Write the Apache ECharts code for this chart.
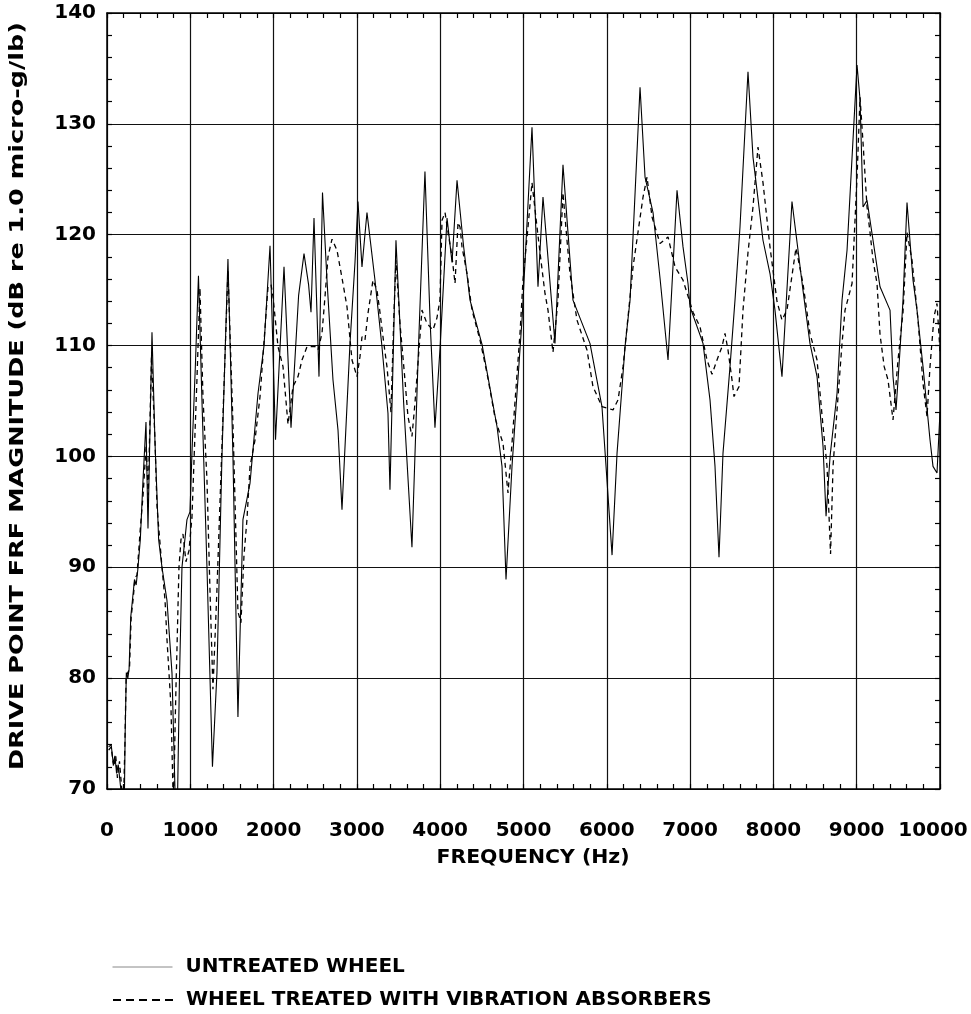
<!DOCTYPE html>
<html>
<head>
<meta charset="utf-8">
<script src="https://cdn.jsdelivr.net/npm/echarts@6/dist/echarts.min.js"></script>
<style>
  html, body { margin: 0; padding: 0; background: #fff; }
  #chart { width: 971px; height: 1014px; }
</style>
</head>
<body>
<div id="chart"></div>
<script>
// Drive point FRF magnitude, untreated vs. treated wheel
const untreatedHz = [20,50,75,95,115,135,160,185,205,218,232,250,265,285,305,330,350,370,400,430,468,492,540,576,620,660,720,780,816,840,870,900,960,996,1020,1060,1098,1140,1200,1266,1320,1380,1452,1512,1572,1632,1717,1813,1885,1957,2023,2125,2209,2300,2365,2420,2449,2485,2545,2587,2641,2713,2773,2821,2917,2977,3013,3061,3121,3217,3301,3373,3397,3469,3560,3661,3740,3817,3880,3937,4000,4082,4142,4202,4280,4358,4502,4682,4742,4790,4862,4982,5102,5174,5234,5378,5474,5594,5798,5942,6063,6123,6219,6279,6399,6459,6555,6640,6735,6843,6915,6975,6999,7155,7239,7299,7347,7395,7479,7539,7599,7695,7755,7875,7959,8019,8103,8223,8355,8439,8524,8596,8632,8680,8764,8824,8884,9004,9040,9076,9124,9196,9280,9400,9436,9472,9520,9556,9604,9676,9724,9796,9880,9916,9964,10000];
const untreatedDb = [73.8,74.0,72.3,73.0,71.4,72.2,70.4,68.5,67.0,75.0,80.5,80.0,80.8,85.5,87.0,88.9,88.4,89.8,92.5,97.5,103.1,93.5,111.2,101.3,92.5,90.0,87.0,80.5,70.0,66.0,80.0,90.0,94.3,95.0,100.3,108.0,116.3,105.0,90.0,72.0,80.5,100.0,117.8,100.0,76.5,94.3,97.6,105.7,110.0,119.0,101.5,117.1,102.6,114.5,118.3,115.5,113.0,121.5,107.2,123.8,115.9,106.9,102.4,95.2,110.2,117.5,123.0,117.1,122.0,115.9,109.9,103.9,97.0,119.5,105.0,91.8,110.0,125.7,112.0,102.6,110.0,121.5,117.5,124.9,119.0,114.1,110.1,102.7,99.1,88.9,99.1,112.3,129.7,115.3,123.4,110.2,126.3,114.1,110.2,104.5,91.1,100.3,109.9,114.1,133.3,125.2,122.0,116.0,108.7,124.0,118.9,115.6,113.5,110.2,105.1,99.1,90.9,100.3,108.1,114.1,120.7,134.7,127.0,119.5,116.5,113.2,107.2,123.0,115.0,110.2,107.2,100.9,94.6,100.0,105.7,114.1,118.6,135.3,132.2,122.5,123.1,119.5,115.3,113.2,107.2,104.2,109.6,114.1,122.9,115.9,113.2,108.1,101.5,99.1,98.5,104.0];

const treatedHz = [20,50,80,105,125,150,175,195,215,230,250,270,290,315,335,360,400,432,470,495,534,576,600,660,696,720,744,768,798,816,828,840,852,864,888,912,948,984,1020,1080,1116,1152,1200,1236,1272,1320,1380,1452,1512,1572,1608,1644,1680,1717,1777,1837,1933,1969,1993,2053,2113,2173,2233,2293,2341,2401,2497,2533,2581,2617,2653,2701,2761,2797,2833,2881,2941,3001,3037,3061,3097,3133,3193,3241,3277,3313,3361,3409,3445,3469,3517,3577,3613,3661,3697,3781,3841,3913,3961,3997,4022,4058,4094,4142,4178,4214,4238,4262,4322,4382,4478,4562,4658,4718,4754,4814,4862,4958,4994,5054,5102,5162,5198,5258,5294,5354,5414,5438,5474,5522,5558,5642,5762,5834,5942,6075,6135,6195,6255,6315,6435,6483,6543,6639,6735,6819,6915,7035,7119,7203,7263,7323,7383,7419,7455,7503,7527,7587,7635,7695,7755,7815,7875,7959,8043,8103,8163,8271,8355,8439,8524,8560,8596,8644,8686,8716,8764,8824,8860,8944,9004,9040,9076,9124,9160,9196,9244,9280,9330,9376,9436,9496,9556,9604,9664,9736,9796,9844,9880,9928,9964,10000];
const treatedDb = [73.5,73.8,72.0,73.0,71.0,72.5,70.2,68.0,74.0,80.2,80.5,80.8,85.5,87.2,89.0,89.3,93.5,96.4,101.0,96.5,109.0,101.5,95.5,90.0,87.1,83.5,80.5,77.4,68.0,75.1,79.2,82.6,86.4,90.0,92.5,93.0,90.5,91.5,94.5,107.0,115.2,105.4,97.9,88.0,79.0,88.0,101.0,116.8,103.0,86.0,85.0,91.0,94.3,99.1,101.5,105.4,115.3,115.5,114.4,109.9,108.1,102.9,106.3,107.2,108.7,109.9,109.9,109.6,111.1,114.4,118.0,119.6,118.6,117.1,115.6,113.5,108.7,107.2,109.0,110.8,110.5,112.9,115.9,115.0,113.0,110.8,108.1,104.0,113.0,117.7,112.0,106.9,103.6,101.8,104.8,113.2,112.0,111.4,112.5,114.1,121.3,122.0,120.2,118.0,115.6,121.1,120.7,118.9,116.5,113.2,110.5,107.5,103.5,102.0,101.2,96.7,101.2,111.1,115.9,120.7,124.7,120.7,118.4,114.7,113.2,109.4,114.1,118.0,123.8,119.5,116.5,112.3,109.6,106.3,104.5,104.2,105.1,108.1,112.6,117.1,123.4,125.2,121.6,119.2,119.8,117.1,115.9,113.0,111.7,108.7,107.4,108.7,109.9,111.1,109.6,106.9,105.4,106.3,113.2,118.4,122.5,127.9,124.7,118.9,114.0,112.3,113.2,118.8,115.6,111.1,108.7,105.7,102.7,99.1,91.2,99.1,104.2,110.2,113.2,115.6,125.2,132.4,128.3,122.5,120.2,117.7,115.6,111.0,108.1,106.9,103.3,108.7,113.0,120.2,117.7,112.3,106.6,103.6,108.1,112.6,113.8,109.5];

const seriesNames = ['UNTREATED WHEEL', 'WHEEL TREATED WITH VIBRATION ABSORBERS'];
const xTitle = 'FREQUENCY (Hz)';
const yTitle = 'DRIVE POINT FRF MAGNITUDE (dB re 1.0 micro-g/lb)';
const X_MAX = 10000;

const FONT = '"DejaVu Sans", "Liberation Sans", Arial, sans-serif';
const FONT_SIZE = 20;
const pairs = (xs, ys) => xs.map((x, i) => [x, ys[i]]);

// width of a bold string, used to stretch the axis titles to their run length
function textWidth(str) {
  const ctx = document.createElement('canvas').getContext('2d');
  ctx.font = 'bold ' + FONT_SIZE + 'px ' + FONT;
  return ctx.measureText(str).width;
}

const tickStyle = { show: true, inside: true, length: 5, lineStyle: { color: '#000', width: 1.2 } };
const minorStyle = { show: true, splitNumber: 5, length: 5, lineStyle: { color: '#000', width: 1.2 } };
const labelText = { color: '#000', fontFamily: FONT, fontWeight: 'bold', fontSize: FONT_SIZE };
const boxLine = { show: true, onZero: false, lineStyle: { color: '#000', width: 1.5 } };

const legendBase = {
  orient: 'horizontal', left: 112, padding: 0,
  itemWidth: 60, itemHeight: 14,
  itemStyle: { opacity: 0 },
  textStyle: { color: '#000', fontFamily: FONT, fontWeight: 'bold', fontSize: FONT_SIZE, padding: [0, 0, 0, 8] }
};

const chart = echarts.init(document.getElementById('chart'), null, { renderer: 'canvas' });
chart.setOption({
  animation: false,
  backgroundColor: '#fff',
  grid: { left: 107, right: 31, top: 13, bottom: 225, containLabel: false, outerBoundsMode: 'none' },
  xAxis: [
    { type: 'value', min: 0, max: X_MAX, interval: 1000, position: 'bottom',
      axisLine: boxLine, axisTick: tickStyle, minorTick: minorStyle,
      axisLabel: Object.assign({
        margin: 32,
        // the last label is nudged left so it stays on the page
        formatter: v => (v === X_MAX ? '{last|' + v + '}' : String(v)),
        rich: { last: Object.assign({ padding: [0, 14, 0, 0] }, labelText) }
      }, labelText),
      splitLine: { show: true, lineStyle: { color: '#111', width: 1.2 } } },
    { type: 'value', min: 0, max: X_MAX, interval: 1000, position: 'top',
      axisLine: boxLine, axisTick: tickStyle, minorTick: minorStyle,
      axisLabel: { show: false }, splitLine: { show: false } }
  ],
  yAxis: [
    { type: 'value', min: 70, max: 140, interval: 10, position: 'left',
      axisLine: boxLine, axisTick: tickStyle, minorTick: minorStyle,
      axisLabel: Object.assign({ margin: 11 }, labelText),
      splitLine: { show: true, lineStyle: { color: '#111', width: 1.2 } } },
    { type: 'value', min: 70, max: 140, interval: 10, position: 'right',
      axisLine: boxLine, axisTick: tickStyle, minorTick: minorStyle,
      axisLabel: { show: false }, splitLine: { show: false } }
  ],
  graphic: [
    { type: 'text', x: 533, y: 858, scaleX: 193 / textWidth(xTitle),
      style: { text: xTitle, fill: '#000', font: 'bold ' + FONT_SIZE + 'px ' + FONT,
               align: 'center', verticalAlign: 'middle' } },
    { type: 'text', x: 18, y: 396, rotation: Math.PI / 2, scaleX: 748 / textWidth(yTitle),
      style: { text: yTitle, fill: '#000', font: 'bold ' + FONT_SIZE + 'px ' + FONT,
               align: 'center', verticalAlign: 'middle' } }
  ],
  legend: [
    Object.assign({}, legendBase, { top: 957,
      data: [{ name: seriesNames[0], lineStyle: { color: '#888', width: 1 } }] }),
    Object.assign({}, legendBase, { top: 990,
      data: [{ name: seriesNames[1], lineStyle: { type: [8, 5] } }] })
  ],
  series: [
    { name: seriesNames[0], type: 'line', xAxisIndex: 0, yAxisIndex: 0,
      data: pairs(untreatedHz, untreatedDb), symbol: 'none', clip: true,
      lineStyle: { color: '#000', width: 1.1, type: 'solid' }, itemStyle: { color: '#000' } },
    { name: seriesNames[1], type: 'line', xAxisIndex: 0, yAxisIndex: 0,
      data: pairs(treatedHz, treatedDb), symbol: 'none', clip: true,
      lineStyle: { color: '#000', width: 1.3, type: [5, 4] }, itemStyle: { color: '#000' } }
  ]
});
</script>
</body>
</html>
